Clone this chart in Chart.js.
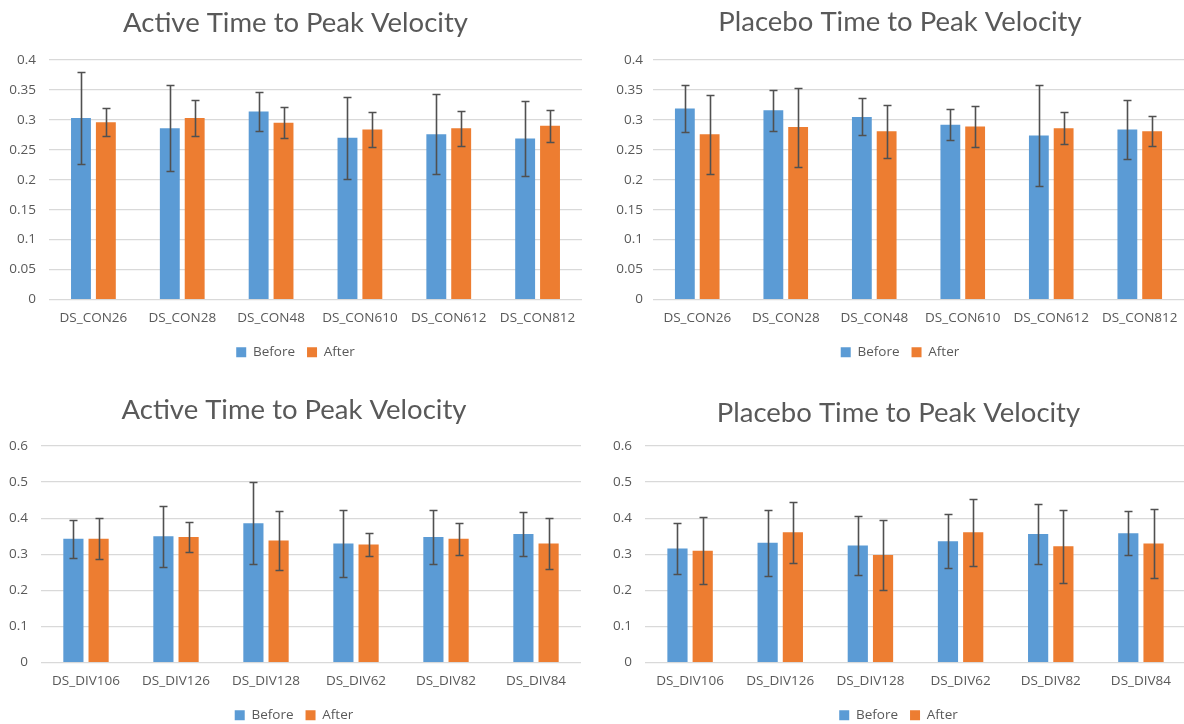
<!DOCTYPE html>
<html>
<head>
<meta charset="utf-8">
<script src="https://cdn.jsdelivr.net/npm/chart.js@4"></script>
<style>
  html, body { margin: 0; padding: 0; background: #fff; overflow: hidden; }
  body { width: 1184px; height: 724px; position: relative; }
  canvas { position: absolute; }
</style>
</head>
<body>
<canvas id="activeCon" style="left:0px;top:0px"></canvas>
<canvas id="placeboCon" style="left:592px;top:0px"></canvas>
<canvas id="activeDiv" style="left:0px;top:370px"></canvas>
<canvas id="placeboDiv" style="left:592px;top:370px"></canvas>
<script>
const conLabels = ["DS_CON26", "DS_CON28", "DS_CON48", "DS_CON610", "DS_CON612", "DS_CON812"];
const divLabels = ["DS_DIV106", "DS_DIV126", "DS_DIV128", "DS_DIV62", "DS_DIV82", "DS_DIV84"];

// active, CON sessions
const activeConBefore = [0.303, 0.286, 0.314, 0.270, 0.276, 0.269];
const activeConBeforeErr = [0.077, 0.072, 0.032, 0.069, 0.067, 0.062];
const activeConAfter = [0.296, 0.303, 0.295, 0.284, 0.286, 0.290];
const activeConAfterErr = [0.023, 0.030, 0.026, 0.029, 0.029, 0.027];

// placebo, CON sessions
const placeboConBefore = [0.319, 0.316, 0.305, 0.292, 0.274, 0.284];
const placeboConBeforeErr = [0.039, 0.034, 0.031, 0.026, 0.085, 0.049];
const placeboConAfter = [0.276, 0.288, 0.281, 0.289, 0.286, 0.281];
const placeboConAfterErr = [0.066, 0.066, 0.044, 0.035, 0.027, 0.025];

// active, DIV sessions
const activeDivBefore = [0.343, 0.350, 0.386, 0.330, 0.348, 0.356];
const activeDivBeforeErr = [0.053, 0.084, 0.114, 0.094, 0.076, 0.062];
const activeDivAfter = [0.343, 0.348, 0.338, 0.327, 0.343, 0.330];
const activeDivAfterErr = [0.057, 0.042, 0.083, 0.031, 0.044, 0.070];

// placebo, DIV sessions
const placeboDivBefore = [0.316, 0.332, 0.324, 0.336, 0.356, 0.358];
const placeboDivBeforeErr = [0.071, 0.092, 0.082, 0.075, 0.082, 0.061];
const placeboDivAfter = [0.310, 0.361, 0.298, 0.361, 0.322, 0.330];
const placeboDivAfterErr = [0.093, 0.085, 0.098, 0.093, 0.101, 0.096];

const smallFont = "'Open Sans', sans-serif";
Chart.defaults.font.family = "Lato, 'Open Sans', sans-serif";
Chart.defaults.color = "#595959";

// draws +/- error whiskers on every bar, using the dataset's errors array
const errorBars = {
    id: "errorBars",
    afterDatasetsDraw(chart) {
        const ctx = chart.ctx;
        const y = chart.scales.y;
        chart.data.datasets.forEach((ds, i) => {
            const meta = chart.getDatasetMeta(i);
            meta.data.forEach((bar, j) => {
                const v = ds.data[j], e = ds.errors[j];
                const top = Math.round(y.getPixelForValue(v + e)) + 0.5;
                const bot = Math.round(y.getPixelForValue(v - e)) + 0.5;
                const x = Math.round(bar.x) + 0.5;
                ctx.save();
                ctx.strokeStyle = "#505050";
                ctx.lineWidth = 1.6;
                ctx.beginPath();
                ctx.moveTo(x, top); ctx.lineTo(x, bot);
                ctx.moveTo(x - 4, top); ctx.lineTo(x + 4, top);
                ctx.moveTo(x - 4, bot); ctx.lineTo(x + 4, bot);
                ctx.stroke();
                ctx.restore();
            });
        });
    }
};

function makeChart(id, title, labels, before, beforeErr, after, afterErr, cfg) {
    const canvas = document.getElementById(id);
    canvas.width = cfg.width;
    canvas.height = cfg.height;
    canvas.style.width = cfg.width + "px";
    canvas.style.height = cfg.height + "px";

    return new Chart(canvas, {
        type: "bar",
        data: {
            labels: labels,
            datasets: [
                { label: "Before", data: before, errors: beforeErr, backgroundColor: "#5B9BD5" },
                { label: "After", data: after, errors: afterErr, backgroundColor: "#ED7D31" }
            ]
        },
        options: {
            responsive: false,
            animation: false,
            devicePixelRatio: 1,
            categoryPercentage: 0.56,
            barPercentage: 0.8,
            layout: { padding: { left: cfg.padLeft, right: cfg.padRight, top: 0, bottom: cfg.padBottom } },
            plugins: {
                title: {
                    display: true,
                    text: title,
                    color: "#595959",
                    font: { size: 27.5, weight: "normal" },
                    padding: { top: cfg.titleTop, bottom: cfg.titleBottom }
                },
                legend: {
                    position: "bottom",
                    labels: {
                        boxWidth: 10,
                        boxHeight: 10,
                        padding: 12,
                        font: { family: smallFont, size: 13.5 },
                        color: "#595959"
                    }
                },
                tooltip: { enabled: false }
            },
            scales: {
                x: {
                    grid: { display: false },
                    border: { display: false },
                    ticks: { font: { family: smallFont, size: 13.5 }, color: "#595959", padding: 3, maxRotation: 0 },
                    afterFit(scale) { scale.height = 34; }
                },
                y: {
                    min: 0,
                    max: cfg.yMax,
                    ticks: {
                        stepSize: cfg.yStep,
                        font: { family: smallFont, size: 13.5 },
                        color: "#595959",
                        padding: cfg.tickPad,
                        callback: (v) => String(Number(v.toFixed(2)))
                    },
                    grid: { color: "#d9d9d9", lineWidth: 1.2, drawTicks: false },
                    border: { display: false },
                    afterFit(scale) { scale.width = cfg.areaLeft - cfg.padLeft; }
                }
            }
        },
        plugins: [errorBars]
    });
}

makeChart("activeCon", "Active Time to Peak Velocity", conLabels,
    activeConBefore, activeConBeforeErr, activeConAfter, activeConAfterErr,
    { width: 600, height: 370, areaLeft: 49, padLeft: 9, padRight: 18, padBottom: 1, tickPad: 13,
      yMax: 0.4, yStep: 0.05, titleTop: 7, titleBottom: 20 });

makeChart("placeboCon", "Placebo Time to Peak Velocity", conLabels,
    placeboConBefore, placeboConBeforeErr, placeboConAfter, placeboConAfterErr,
    { width: 622, height: 370, areaLeft: 61, padLeft: 24, padRight: 30, padBottom: 1, tickPad: 10,
      yMax: 0.4, yStep: 0.05, titleTop: 6, titleBottom: 21 });

makeChart("activeDiv", "Active Time to Peak Velocity", divLabels,
    activeDivBefore, activeDivBeforeErr, activeDivAfter, activeDivAfterErr,
    { width: 600, height: 370, areaLeft: 41, padLeft: 7, padRight: 19, padBottom: 8, tickPad: 13,
      yMax: 0.6, yStep: 0.1, titleTop: 24, titleBottom: 19 });

makeChart("placeboDiv", "Placebo Time to Peak Velocity", divLabels,
    placeboDivBefore, placeboDivBeforeErr, placeboDivAfter, placeboDivAfterErr,
    { width: 626, height: 370, areaLeft: 53, padLeft: 19, padRight: 32, padBottom: 8, tickPad: 13,
      yMax: 0.6, yStep: 0.1, titleTop: 27, titleBottom: 16 });
</script>
</body>
</html>
